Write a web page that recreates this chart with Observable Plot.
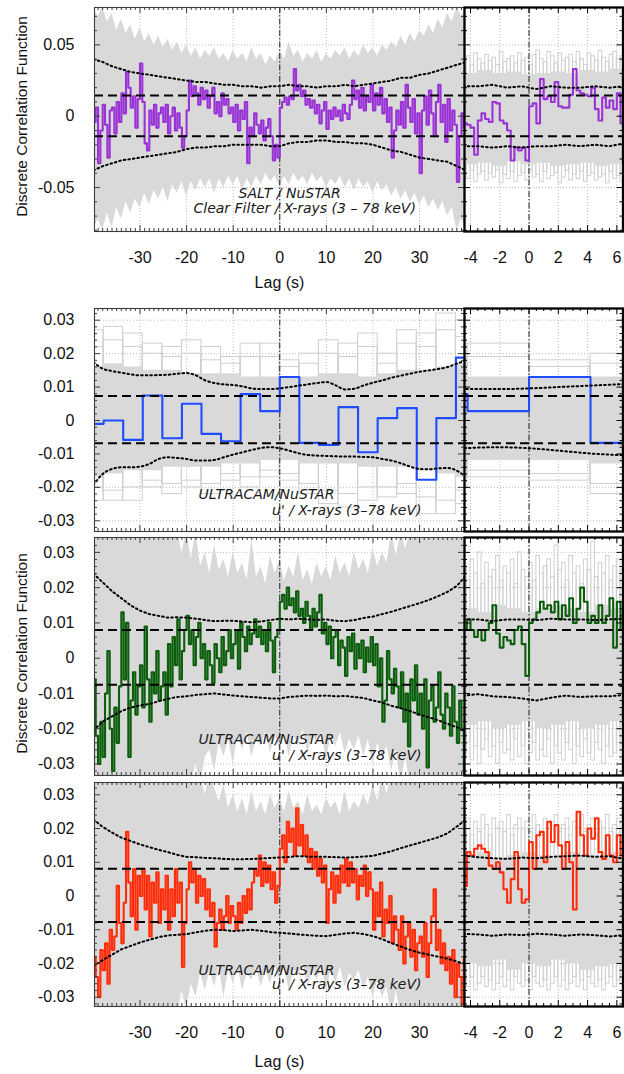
<!DOCTYPE html>
<html><head><meta charset="utf-8">
<script src="https://cdn.jsdelivr.net/npm/d3@7"></script>
<script src="https://cdn.jsdelivr.net/npm/@observablehq/plot@0.6"></script>
<style>
html,body{margin:0;padding:0;background:#fff;}
#chart{position:relative;width:624px;height:1074px;overflow:hidden;background:#fff;}
#chart svg{position:absolute;background:transparent;overflow:visible;}
</style></head><body><div id="chart"></div>
<script>
// ---------- tick labels ----------
const lagTicksWide = [-30, -20, -10, 0, 10, 20, 30];
const lagTicksZoom = [-4, -2, 0, 2, 4, 6];
const dcfTicksSalt = [-0.05, 0, 0.05];
const dcfTicksUcam = [-0.03, -0.02, -0.01, 0, 0.01, 0.02, 0.03];
const yTitle = "Discrete Correlation Function";
const xTitle = "Lag (s)";

// all DCF values below are in units of 0.001
const MILLI = 0.001;

// ---------- Row 1: SALT / NuSTAR (0.5 s bins from -40 s) ----------
const saltStart = -40, saltBin = 0.5;
const saltDcf = [
 -4,6,-33,-10,8,-6,-29,4,6,-12,
 10,-4,16,2,31,20,6,14,-8,12,
 37,10,-19,-24,4,-6,8,-8,2,6,
 -4,8,-12,0,6,-10,2,-8,-22,-14,
 4,25,14,21,16,8,20,12,18,6,
 14,20,2,10,0,16,8,12,2,6,
 -4,8,-10,4,-2,10,-33,-8,-14,2,
 -6,-12,-3,-17,-8,-2,-14,-31,-20,-29,
 6,10,13,8,14,12,33,18,22,14,
 18,8,12,6,11,2,8,-5,4,10,
 -9,4,-2,6,0,4,-3,8,2,-2,
 8,25,12,18,6,20,4,14,10,22,
 4,16,8,20,2,12,-4,6,-29,-10,
 4,-6,10,-8,22,6,-4,12,-12,2,
 -40,4,14,-6,18,2,-14,10,22,-4,
 8,-18,12,-10,4,-6,-46,-14,2,-8];
// simulated-DCF envelope, 1 s steps from -40 s
const saltSimHi = [76,70,76,66,72,60,68,58,64,54,62,52,58,50,56,48,54,46,52,44,50,42,48,40,46,42,48,40,44,38,46,40,44,38,48,40,44,36,42,38,46,40,52,42,46,38,44,40,46,38,44,40,46,42,48,40,46,42,50,44,48,42,50,46,52,48,56,50,58,52,60,56,64,58,68,62,72,66,76,70,76];
const saltSimLo = [-80,-72,-80,-68,-78,-64,-72,-60,-68,-58,-64,-54,-62,-52,-58,-50,-60,-48,-54,-46,-56,-46,-52,-44,-50,-44,-54,-44,-50,-42,-48,-42,-52,-44,-50,-42,-48,-40,-46,-42,-50,-42,-48,-40,-46,-42,-48,-40,-46,-42,-50,-44,-48,-42,-50,-44,-52,-44,-50,-46,-54,-46,-52,-48,-56,-50,-58,-52,-60,-54,-62,-56,-64,-58,-66,-60,-70,-64,-80,-72,-80];
// confidence contours, 2 s steps from -40 s
const saltConfHi = [40,38,35,33,31,30,29,28,27,26,25,24,24,23,22,22,21,21,20,21,21,22,21,21,20,21,21,22,21,22,23,24,25,27,27,29,30,32,34,36,38];
const saltConfLo = [-38,-35,-33,-31,-30,-29,-28,-27,-26,-25,-23,-22,-22,-21,-21,-20,-20,-20,-20,-21,-21,-19,-18,-18,-17,-17,-18,-18,-19,-19,-20,-22,-24,-25,-27,-29,-30,-31,-32,-35,-38];
const saltLevels = [14.5, -14];
// zoom: 0.25 s bins from -4.5 s
const saltZoomStart = -4.5, saltZoomBin = 0.25;
const saltZoomDcf = [-5,-6,-8,-27,-3,2,-2,-4,10,9,-3,-5,-10,-31,-22,-24,-22,-31,7,9,-5,26,12,14,10,24,7,6,6,15,33,18,16,15,14,20,5,-3,13,6,11,5,16,-5];
const saltZoomSimHi = [38,42,36,44,40,37,43,39,41,36,45,38,40,42,37,44,39,41,36,43,46,40,38,45,42,37,44,39,41,43,38,45,40,36,44,42,39,46,41,38,43,45,40,42];
const saltZoomSimLo = [-40,-44,-38,-46,-41,-39,-45,-40,-43,-38,-47,-41,-44,-39,-46,-42,-40,-45,-38,-43,-41,-46,-39,-44,-42,-40,-47,-43,-38,-45,-41,-44,-39,-46,-42,-40,-45,-43,-41,-47,-39,-44,-42,-46];
const saltZoomCoreHi = [30,32,30,31,29,30,31,30,32,31,33];   // 1 s bins from -4.5 s
const saltZoomCoreLo = [-34,-33,-35,-32,-34,-33,-35,-34,-33,-35,-34];
const saltZoomConfHi = [21,21,22,20,21,19,21,20,20,21,20,21]; // 1 s steps from -4.5 s
const saltZoomConfLo = [-21,-21,-22,-21,-22,-21,-21,-20,-21,-20,-21,-19];

// ---------- Row 2: ULTRACAM / NuSTAR, coarse 4.2 s bins ----------
const ucamCoarseEdges = [-40,-37.8,-33.6,-29.4,-25.2,-21,-16.8,-12.6,-8.4,-4.2,0,4.2,8.4,12.6,16.8,21,25.2,29.4,33.6,37.8,40];
const ucamCoarseDcf = [-1.0,0,-5.8,7.5,-5.3,5.0,-4.0,-6.2,7.9,2.8,13.0,-6.7,-7.3,4.0,-9.5,0.7,3.7,-17.7,0.7,18.8];
const ucamCoarseCoreHi = [16,17,16,15,15,14,14,14,13,13,13,13,14,14,13,14,15,15,16,17];
const ucamCoarseCoreLo = [-17,-16,-15,-15,-14,-14,-14,-13,-13,-12,-12,-13,-13,-13,-14,-14,-14,-15,-16,-17];
const ucamCoarseSimHi = [27,28,26,23,22,24,22,19,23,23,18,20,24,23,26,20,27,26,32,30];
const ucamCoarseSimHi2 = [22,24,22,20,19,20,18,17,19,19,16,17,20,19,22,17,23,22,27,25];
const ucamCoarseSimLo = [-24,-24,-24,-20,-22,-20,-22,-18,-20,-17,-18,-22,-25,-26,-24,-23,-22,-28,-28,-25];
const ucamCoarseSimLo2 = [-20,-21,-20,-18,-19,-18,-19,-16,-17,-15,-16,-19,-21,-22,-20,-20,-19,-23,-24,-21];
const ucamCoarseConfHi = [17.5,15.5,14.8,14.3,13.8,13.5,13.5,13.6,13.7,14.0,14.2,13.5,12.0,11.2,10.8,10.6,10.2,9.6,9.4,9.4,9.6,10.0,10.4,10.8,11.2,11.5,10.5,9.3,9.5,10.5,11.3,12.0,12.8,13.4,14.0,14.6,15.0,15.4,16.0,17.0,18.0];
const ucamCoarseConfLo = [-19.3,-16,-14.5,-14,-14,-13.8,-13,-11.5,-11,-11.2,-11.5,-12,-12,-11.8,-11,-10.2,-9.5,-8.8,-8.2,-8,-8.3,-9,-9.8,-10.3,-10.5,-10.6,-10.7,-10.8,-10.8,-10.9,-11,-11.5,-12,-12.8,-13.8,-14.5,-14.6,-14.3,-14.2,-15,-17];
const ucamCoarseLevels = [7.3, -6.8];

// ---------- Row 3: ULTRACAM / NuSTAR (green) ----------
const ucamGStart = -40, ucamGBin = 0.5;
const ucamGDcf = [
 -6,-22,-30,-18,-28,-10,2,-20,-32,-14,
 -24,-8,13,-6,10,-28,-12,-4,-16,-8,
 -2,-14,9,-6,-18,-4,-10,2,-12,-8,
 -4,-16,4,-8,6,-2,11,-6,2,8,
 12,4,8,-2,6,10,0,4,-6,2,
 -2,-7,4,0,-4,6,-2,2,8,0,
 4,8,-3,10,6,2,9,4,7,11,
 6,9,4,8,2,10,5,-4,6,8,
 16,18,14,20,15,17,13,19,12,14,
 10,16,12,8,14,9,13,18,7,10,
 4,9,0,6,8,-2,5,3,-5,6,
 2,7,-3,4,0,5,-4,3,-1,6,
 -2,4,-8,0,-18,-12,2,-6,-10,-3,
 -8,-14,-4,-18,-10,-25,-6,-12,-2,-16,
 -10,-20,-6,-31,-12,-8,-18,-14,-4,-16,
 -20,-10,-14,-22,-8,-18,-24,-12,-20,-33];
const ucamGSimHi = [36,36,36,36,36,36,36,36,36,36,36,36,36,36,36,36,36,36,36,30,36,
 28,36,26,30,24,32,25,28,23,30,24,27,22,34,23,26,21,29,24,
 28,22,26,23,30,22,25,21,27,23,26,22,29,24,27,23,30,25,28,24,31,
 26,30,27,36,29,36,31,36,36,36,36,36,36,36,36,36,36,36,36,36];
const ucamGSimLo = [-36,-36,-36,-36,-36,-36,-36,-36,-36,-36,-36,-36,-36,-36,-36,-36,-36,-36,-36,-36,-36,-36,-30,-36,-28,
 -26,-32,-24,-28,-23,-30,-22,-26,-21,-28,-23,-25,-21,-27,-22,
 -26,-21,-28,-22,-25,-20,-27,-22,-24,-21,-29,-22,-25,-21,-27,-23,-26,-22,-28,-23,-30,
 -24,-28,-25,-32,-26,-36,-28,-36,-36,-36,-36,-36,-36,-36,-36,-36,-36,-36,-36,-36];
const ucamGConfHi = [24,21.5,19,17,15,13.5,12.5,12,11.5,11.6,11.5,11.2,10.8,10.5,10.6,10.6,10.4,10.2,10.4,10.8,11.2,11,11.2,11,10.9,11,10.6,10.5,10.8,11.4,11.8,12.5,13.2,14,14.8,15.6,16.5,17.6,18.8,20.5,23.5];
const ucamGConfLo = [-20.5,-18,-16.5,-15,-14,-13.4,-13,-12.2,-11.5,-11,-10.8,-10.4,-10.2,-10,-10.3,-10.6,-10.8,-11,-11.2,-11.4,-11.4,-11,-10.8,-10.6,-10.7,-10.6,-10.8,-10.7,-11,-11.3,-12,-12.6,-13.5,-14.2,-15,-16,-16.8,-17.6,-18.6,-19.6,-21];
const ucamGLevels = [8.0, -7.5];
const ucamGZoomDcf = [8,11,8,6,8,5,8,10,15,7,3,6,5,4,8,9,4,-5,10,11,13,16,14,15,13,16,11,15,12,17,10,14,20,16,10,12,10,15,10,12,17,3,16,8];
const ucamGZoomSimHi = [26,22,28,24,30,21,27,23,25,29,22,26,24,28,21,30,25,23,27,22,29,24,26,28,23,32,25,27,22,29,24,26,21,28,25,33,23,27,24,29,22,26,28,25];
const ucamGZoomSimLo = [-27,-24,-29,-25,-30,-26,-23,-28,-25,-30,-24,-27,-26,-29,-23,-28,-25,-30,-27,-24,-29,-26,-28,-23,-30,-25,-27,-29,-24,-26,-30,-25,-28,-23,-27,-29,-24,-26,-30,-25,-28,-27,-24,-29];
const ucamGZoomCoreHi = [14,13,15,14,13,14,15,14,13,15,14];
const ucamGZoomCoreLo = [-19,-18,-20,-19,-18,-20,-19,-18,-20,-19,-18];
const ucamGZoomConfHi = [11,11,10.5,11,11,10.8,11.2,11,11,10.8,11,11.2];
const ucamGZoomConfLo = [-10.6,-10.2,-10.8,-11,-11.4,-12,-11.2,-10.6,-11,-10.8,-10.8,-10.4];

// ---------- Row 4: ULTRACAM / NuSTAR (red) ----------
const ucamRStart = -40, ucamRBin = 0.5;
const ucamRDcf = [
 -18,-24,-30,-16,-22,-14,-26,-10,-16,-12,
 3,-8,-14,-2,19,4,-6,8,-10,6,
 0,8,-4,6,-12,4,-2,7,-8,2,
 -4,6,-10,2,-6,8,-2,4,-21,-8,
 2,10,4,8,-2,6,0,5,-4,2,
 -6,-2,-15,-8,-4,-10,-6,0,-8,-3,
 -6,-10,-2,-8,0,-5,2,-4,4,8,
 6,12,3,10,4,9,2,7,-2,3,
 14,18,10,22,16,20,12,26,15,21,
 12,18,10,14,8,13,6,11,4,9,
 -8,2,7,-2,6,1,9,4,11,3,
 10,4,8,-1,6,3,9,0,7,2,
 -10,1,-6,4,-12,-4,-8,0,-14,-6,
 -10,-16,-6,-20,-12,-8,-18,-10,-22,-14,
 -12,-18,-8,-24,-14,-6,2,-16,-10,-20,
 -14,-22,-18,-26,-16,-30,-20,-24,-33,-18];
const ucamRSimHi = [36,36,36,36,36,36,36,36,36,36,36,36,36,36,36,36,36,36,36,36,36,36,36,36,30,36,32,
 28,33,26,30,25,29,24,31,25,28,24,30,26,
 29,25,31,26,28,24,30,25,27,24,29,26,28,24,31,25,28,26,30,27,33,
 28,36,30,36,36,36,36,36,36,36,36,36,36,36,36,36,36,36,36,36];
const ucamRSimLo = [-36,-36,-36,-36,-36,-36,-36,-36,-36,-36,-36,-36,-36,-36,-36,-36,-36,-36,-36,
 -28,-34,-26,-30,-23,-28,-22,-27,-21,-30,-22,-26,-21,-28,-23,-25,-21,-27,-22,-26,-21,
 -25,-21,-28,-22,-24,-20,-27,-22,-25,-21,-28,-22,-26,-21,-27,-23,-25,-22,-28,-24,-30,
 -25,-30,-27,-36,-28,-36,-36,-36,-36,-36,-36,-36,-36,-36,-36,-36,-36,-36,-36,-36];
const ucamRConfHi = [22.7,20.5,18.8,17.3,16.3,15.3,14.5,13.7,13,12.2,11.6,11.5,11.3,11.2,11,10.9,10.9,11,11.1,11.3,11.4,11.6,11.8,11.7,11.6,11.6,11.5,11.4,11.5,11.7,11.9,12.6,13.3,14.2,15,15.8,16.6,17.4,18.6,20.6,22.7];
const ucamRConfLo = [-20.8,-19,-17.4,-15.8,-14.8,-13.8,-13,-12.2,-11.7,-11.5,-11.3,-10.8,-10.3,-10,-10.1,-10.4,-10.2,-10,-10.3,-10.7,-10.9,-11.1,-11.4,-11.6,-11.8,-11.9,-11.5,-11.1,-10.9,-11.3,-11.9,-12.8,-14,-15,-16,-16.8,-17.4,-18,-18.6,-19.4,-20.3];
const ucamRLevels = [8.1, -7.7];
const ucamRZoomDcf = [3,13,12,14,15,14,13,9,8,10,7,2,-2,5,13,2,-2,-1,16,8,18,19,10,22,16,21,15,8,16,10,-4,25,18,12,20,17,23,13,11,18,12,10,18,12];
const ucamRZoomSimHi = [20,23,18,22,19,24,21,18,23,20,22,19,24,18,21,23,20,22,19,24,21,18,23,20,22,24,19,21,23,18,22,20,24,19,21,23,18,22,20,24,19,21,23,20];
const ucamRZoomSimLo = [-25,-27,-24,-28,-26,-24,-27,-25,-28,-26,-24,-27,-25,-28,-24,-26,-27,-25,-28,-24,-26,-27,-25,-28,-26,-24,-27,-25,-28,-26,-24,-27,-25,-28,-24,-26,-27,-25,-28,-26,-24,-27,-25,-26];
const ucamRZoomCoreHi = [12,13,11,12,13,12,11,13,12,12,13];
const ucamRZoomCoreLo = [-20,-21,-19,-22,-20,-21,-19,-20,-22,-21,-20];
const ucamRZoomConfHi = [12,11.5,11.2,11,11.4,11.2,11.6,11.8,12,11.6,11.8,11];
const ucamRZoomConfLo = [-11.2,-11.4,-11.8,-11.4,-11.6,-11.2,-11.4,-11.8,-11.4,-11.6,-12,-11.6];

const colors = {salt: "#9a33d6", blue: "#1f4cff", green: "#0b5e0b", red: "#ff2d0a", sim: "#d9d9d9", simLine: "#d0d0d0"};

// ---------- helpers (build tables from the arrays) ----------
const pts = (vals, start, step) => vals.map((v, i) => ({lag: start + i * step, v: v * MILLI}));
const stepPts = (vals, start, step) => { const p = pts(vals, start, step); p.push({lag: start + vals.length * step, v: vals[vals.length - 1] * MILLI}); return p; };
const edgeStep = (vals, edges) => { const p = vals.map((v, i) => ({lag: edges[i], v: v * MILLI})); p.push({lag: edges[edges.length - 1], v: vals[vals.length - 1] * MILLI}); return p; };
const band = (hi, lo, start, step) => hi.map((h, i) => ({lag: start + i * step, hi: h * MILLI, lo: lo[i] * MILLI}));
const bandStep = (hi, lo, start, step) => { const b = band(hi, lo, start, step); b.push({lag: start + hi.length * step, hi: hi[hi.length - 1] * MILLI, lo: lo[lo.length - 1] * MILLI}); return b; };
const edgeBand = (hi, lo, edges) => { const b = hi.map((h, i) => ({lag: edges[i], hi: h * MILLI, lo: lo[i] * MILLI})); b.push({lag: edges[edges.length - 1], hi: hi[hi.length - 1] * MILLI, lo: lo[lo.length - 1] * MILLI}); return b; };
const rects = (vals, start, step) => vals.map((v, i) => ({x1: start + i * step, x2: start + (i + 1) * step, y1: 0, y2: v * MILLI}));
const edgeRects = (vals, edges) => vals.map((v, i) => ({x1: edges[i], x2: edges[i + 1], y1: 0, y2: v * MILLI}));
const milli = a => a.map(v => v * MILLI);

const chartEl = document.getElementById("chart");
const FONT = "Liberation Sans, Arial, sans-serif";
const NOTE_FONT = "DejaVu Sans, Verdana, sans-serif";

const COLS = {
  left: {left: 0, width: 465, mL: 94, mR: 1, xDomain: [-39.76, 39.64], xMajor: lagTicksWide,
         xMinor: d3.range(-39, 40).filter(v => v % 10 !== 0), frameStroke: "#3c3c3c", frameWidth: 1.1},
  right: {left: 463, width: 161, mL: 1, mR: 1.5, xDomain: [-4.41, 6.42], xMajor: lagTicksZoom,
         xMinor: d3.range(-8, 13).map(i => i * 0.5).filter(v => v % 2 !== 0), frameStroke: "#000", frameWidth: 2.3}
};
const minorSalt = d3.range(-8, 8).filter(i => i % 5 !== 0).map(i => i * 0.01);
const minorUcam = d3.range(-16, 17).filter(i => i % 5 !== 0).map(i => i * 0.002);
const ROWS = [
  {top: 0, mT: 7, mB: 70, frameH: 224, yDomain: [-0.0808, 0.0762], yMajor: dcfTicksSalt, yMinor: minorSalt, xLabels: true, lagDy: 56, yTitle: true},
  {top: 304, mT: 4, mB: 3, frameH: 223, yDomain: [-0.0332, 0.0335], yMajor: dcfTicksUcam, yMinor: minorUcam},
  {top: 533, mT: 4, mB: 3, frameH: 238, yDomain: [-0.03326, 0.03422], yMajor: dcfTicksUcam, yMinor: minorUcam, yTitle: true},
  {top: 778, mT: 4, mB: 68, frameH: 224, yDomain: [-0.03276, 0.03365], yMajor: dcfTicksUcam, yMinor: minorUcam, xLabels: true, lagDy: 60}
];

function panel(row, col, content) {
  const height = row.mT + row.frameH + row.mB;
  const innerW = col.width - col.mL - col.mR;
  const [x0, x1] = col.xDomain, [y0, y1] = row.yDomain;
  const kx = (x1 - x0) / innerW, ky = (y1 - y0) / row.frameH;
  const tick = col.frameStroke;
  const isLeft = col === COLS.left;
  const marks = [
    Plot.ruleX(col.xMajor, {stroke: "#bdbdbd", strokeWidth: 1, strokeDasharray: "1,2"}),
    Plot.ruleY(row.yMajor, {stroke: "#bdbdbd", strokeWidth: 1, strokeDasharray: "1,2"}),
    ...content.background,
    Plot.ruleX([0], {stroke: "#1a1a1a", strokeWidth: 1, strokeDasharray: "6,2,1.5,2"}),
    Plot.line(content.series, {x: "lag", y: "v", curve: "step-after", stroke: content.color, strokeWidth: 2.1, clip: true}),
    Plot.line(content.confHi, {x: "lag", y: "v", curve: content.confCurve || "linear", stroke: "#000", strokeWidth: 2, strokeDasharray: "1.6,3", clip: true}),
    Plot.line(content.confLo, {x: "lag", y: "v", curve: content.confCurve || "linear", stroke: "#000", strokeWidth: 2, strokeDasharray: "1.6,3", clip: true}),
    Plot.ruleY(content.levels, {stroke: "#000", strokeWidth: 2, strokeDasharray: "9,5"}),
    // inward tick marks on all four sides
    Plot.ruleX(col.xMajor, {x: d => d, y1: y1, y2: y1 - 6 * ky, stroke: tick}),
    Plot.ruleX(col.xMajor, {x: d => d, y1: y0, y2: y0 + 6 * ky, stroke: tick}),
    Plot.ruleX(col.xMinor, {x: d => d, y1: y1, y2: y1 - 3 * ky, stroke: tick}),
    Plot.ruleX(col.xMinor, {x: d => d, y1: y0, y2: y0 + 3 * ky, stroke: tick}),
    Plot.ruleY(row.yMajor, {y: d => d, x1: x0, x2: x0 + 6 * kx, stroke: tick}),
    Plot.ruleY(row.yMajor, {y: d => d, x1: x1, x2: x1 - 6 * kx, stroke: tick}),
    Plot.ruleY(row.yMinor, {y: d => d, x1: x0, x2: x0 + 3 * kx, stroke: tick}),
    Plot.ruleY(row.yMinor, {y: d => d, x1: x1, x2: x1 - 3 * kx, stroke: tick}),
    Plot.frame({stroke: col.frameStroke, strokeWidth: col.frameWidth})
  ];
  if (isLeft) {
    marks.push(Plot.text(row.yMajor, {y: d => d, frameAnchor: "left", dx: -20, textAnchor: "end", text: d => String(d), fontSize: 16, fontFamily: FONT, fill: "#111"}));
    if (row.yTitle) marks.push(Plot.text([yTitle], {frameAnchor: "left", textAnchor: "middle", dx: -72, dy: -3, rotate: -90, fontSize: 15.5, fontFamily: FONT, fill: "#111"}));
    for (const n of content.notes) marks.push(Plot.text([n.text], {frameAnchor: "bottom-left", dx: n.dx, dy: n.dy, textAnchor: n.anchor, fontSize: 14, fontStyle: "italic", fontFamily: NOTE_FONT, fill: "#1a1a1a"}));
  }
  if (row.xLabels) {
    marks.push(Plot.text(col.xMajor, {x: d => d, frameAnchor: "bottom", dy: 31.5, text: d => String(d), fontSize: 16, fontFamily: FONT, fill: "#111"}));
    if (isLeft) marks.push(Plot.text([xTitle], {frameAnchor: "bottom", dy: row.lagDy, fontSize: 16, fontFamily: FONT, fill: "#111"}));
  }
  const svg = Plot.plot({
    width: col.width, height,
    marginLeft: col.mL, marginRight: col.mR, marginTop: row.mT, marginBottom: row.mB,
    x: {domain: col.xDomain, axis: null},
    y: {domain: row.yDomain, axis: null},
    style: {background: "transparent", overflow: "visible"},
    marks
  });
  svg.style.left = col.left + "px";
  svg.style.top = row.top + "px";
  chartEl.appendChild(svg);
}

function wideBackground(hi, lo) {
  return [Plot.areaY(band(hi, lo, -40, 1), {x: "lag", y1: "lo", y2: "hi", fill: colors.sim, curve: "linear", clip: true})];
}
function zoomBackground(simHi, simLo, coreHi, coreLo, start, bin) {
  return [
    Plot.rect(rects(simHi, start, bin), {x1: "x1", x2: "x2", y1: "y1", y2: "y2", stroke: colors.simLine, fill: "none", strokeWidth: 1, clip: true}),
    Plot.rect(rects(simLo, start, bin), {x1: "x1", x2: "x2", y1: "y1", y2: "y2", stroke: colors.simLine, fill: "none", strokeWidth: 1, clip: true}),
    Plot.areaY(bandStep(coreHi, coreLo, -4.5, 1), {x: "lag", y1: "lo", y2: "hi", fill: colors.sim, curve: "step-after", clip: true})
  ];
}
function coarseBackground() {
  const e = ucamCoarseEdges;
  return [
    ...[ucamCoarseSimHi, ucamCoarseSimHi2, ucamCoarseSimLo, ucamCoarseSimLo2].map(a =>
      Plot.rect(edgeRects(a, e), {x1: "x1", x2: "x2", y1: "y1", y2: "y2", stroke: colors.simLine, fill: "none", strokeWidth: 1, clip: true})),
    Plot.areaY(edgeBand(ucamCoarseCoreHi, ucamCoarseCoreLo, e), {x: "lag", y1: "lo", y2: "hi", fill: colors.sim, curve: "step-after", clip: true})
  ];
}

const ucamNotes = (dy1, dy2) => [
  {text: "ULTRACAM/NuSTAR", dx: 104, dy: dy1, anchor: "start"},
  {text: "u' / X-rays (3–78 keV)", dx: 327, dy: dy2, anchor: "end"}
];

// Row 1
panel(ROWS[0], COLS.left, {
  background: wideBackground(saltSimHi, saltSimLo),
  series: stepPts(saltDcf, saltStart, saltBin), color: colors.salt,
  confHi: pts(saltConfHi, -40, 2), confLo: pts(saltConfLo, -40, 2),
  levels: milli(saltLevels),
  notes: [{text: "SALT / NuSTAR", dx: 144, dy: -34, anchor: "start"},
          {text: "Clear Filter / X-rays (3 – 78 keV)", dx: 99, dy: -19, anchor: "start"}]
});
panel(ROWS[0], COLS.right, {
  background: zoomBackground(saltZoomSimHi, saltZoomSimLo, saltZoomCoreHi, saltZoomCoreLo, saltZoomStart, saltZoomBin),
  series: stepPts(saltZoomDcf, saltZoomStart, saltZoomBin), color: colors.salt,
  confHi: pts(saltZoomConfHi, -4.5, 1), confLo: pts(saltZoomConfLo, -4.5, 1),
  levels: milli(saltLevels), notes: []
});
// Row 2
for (const col of [COLS.left, COLS.right]) {
  panel(ROWS[1], col, {
    background: coarseBackground(),
    series: edgeStep(ucamCoarseDcf, ucamCoarseEdges), color: colors.blue,
    confHi: pts(ucamCoarseConfHi, -40, 2), confLo: pts(ucamCoarseConfLo, -40, 2), confCurve: "monotone-x",
    levels: milli(ucamCoarseLevels), notes: ucamNotes(-33, -17)
  });
}
// Row 3
panel(ROWS[2], COLS.left, {
  background: wideBackground(ucamGSimHi, ucamGSimLo),
  series: stepPts(ucamGDcf, ucamGStart, ucamGBin), color: colors.green,
  confHi: pts(ucamGConfHi, -40, 2), confLo: pts(ucamGConfLo, -40, 2),
  levels: milli(ucamGLevels), notes: ucamNotes(-32, -16)
});
panel(ROWS[2], COLS.right, {
  background: zoomBackground(ucamGZoomSimHi, ucamGZoomSimLo, ucamGZoomCoreHi, ucamGZoomCoreLo, -4.5, 0.25),
  series: stepPts(ucamGZoomDcf, -4.5, 0.25), color: colors.green,
  confHi: pts(ucamGZoomConfHi, -4.5, 1), confLo: pts(ucamGZoomConfLo, -4.5, 1),
  levels: milli(ucamGLevels), notes: []
});
// Row 4
panel(ROWS[3], COLS.left, {
  background: wideBackground(ucamRSimHi, ucamRSimLo),
  series: stepPts(ucamRDcf, ucamRStart, ucamRBin), color: colors.red,
  confHi: pts(ucamRConfHi, -40, 2), confLo: pts(ucamRConfLo, -40, 2),
  levels: milli(ucamRLevels), notes: ucamNotes(-32, -18)
});
panel(ROWS[3], COLS.right, {
  background: zoomBackground(ucamRZoomSimHi, ucamRZoomSimLo, ucamRZoomCoreHi, ucamRZoomCoreLo, -4.5, 0.25),
  series: stepPts(ucamRZoomDcf, -4.5, 0.25), color: colors.red,
  confHi: pts(ucamRZoomConfHi, -4.5, 1), confLo: pts(ucamRZoomConfLo, -4.5, 1),
  levels: milli(ucamRLevels), notes: []
});
</script></body></html>
